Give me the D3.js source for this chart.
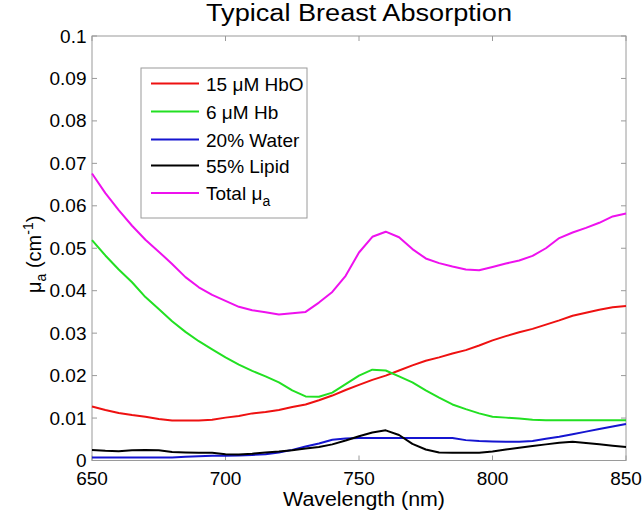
<!DOCTYPE html>
<html>
<head>
<meta charset="utf-8">
<script src="https://cdn.jsdelivr.net/npm/d3@7"></script>
<style>
  body { margin: 0; background: #fff; }
  svg { font-family: "Liberation Sans", Arial, sans-serif; }
</style>
</head>
<body>
<div id="chart"></div>
<script>
const wavelengths = d3.range(650, 851, 5);

const hbo = [0.0127, 0.0119, 0.0112, 0.0107, 0.0103, 0.0098, 0.0094, 0.0094, 0.0094, 0.0096,
  0.0101, 0.0105, 0.0111, 0.0114, 0.0119, 0.0126, 0.0132, 0.0142, 0.0153, 0.0166,
  0.0178, 0.0190, 0.0200, 0.0212, 0.0224, 0.0235, 0.0243, 0.0252, 0.0260, 0.0271,
  0.0283, 0.0293, 0.0302, 0.0310, 0.0320, 0.0330, 0.0341, 0.0348, 0.0355, 0.0361, 0.0364];

const hb = [0.0519, 0.0483, 0.0450, 0.0420, 0.0385, 0.0357, 0.0328, 0.0303, 0.0281, 0.0262,
  0.0243, 0.0226, 0.0211, 0.0198, 0.0184, 0.0165, 0.0151, 0.0150, 0.0160, 0.0180,
  0.0200, 0.0214, 0.0212, 0.0198, 0.0184, 0.0165, 0.0148, 0.0132, 0.0121, 0.0111,
  0.0103, 0.0101, 0.0099, 0.0096, 0.0095, 0.0095, 0.0095, 0.0095, 0.0095, 0.0095, 0.0095];

const water = [0.0007, 0.0007, 0.0007, 0.0007, 0.0007, 0.0007, 0.0007, 0.0009, 0.0010, 0.0011,
  0.0011, 0.0012, 0.0013, 0.0015, 0.0019, 0.0025, 0.0033, 0.0040, 0.0049, 0.0052,
  0.0053, 0.0053, 0.0053, 0.0053, 0.0053, 0.0053, 0.0053, 0.0053, 0.0048, 0.0046,
  0.0045, 0.0044, 0.0044, 0.0046, 0.0051, 0.0056, 0.0062, 0.0068, 0.0074, 0.0080, 0.0086];

const lipid = [0.0025, 0.0023, 0.0022, 0.0024, 0.0025, 0.0024, 0.0020, 0.0019, 0.0018, 0.0018,
  0.0015, 0.0014, 0.0016, 0.0019, 0.0021, 0.0024, 0.0028, 0.0032, 0.0038, 0.0047,
  0.0057, 0.0066, 0.0071, 0.0060, 0.0039, 0.0026, 0.0019, 0.0018, 0.0018, 0.0018,
  0.0021, 0.0026, 0.0030, 0.0034, 0.0038, 0.0042, 0.0044, 0.0041, 0.0038, 0.0035, 0.0032];

const total = [0.0676, 0.0630, 0.0590, 0.0553, 0.0520, 0.0492, 0.0463, 0.0432, 0.0408, 0.0390,
  0.0376, 0.0362, 0.0354, 0.0349, 0.0344, 0.0347, 0.0350, 0.0372, 0.0397, 0.0435,
  0.0490, 0.0527, 0.0539, 0.0526, 0.0498, 0.0476, 0.0465, 0.0457, 0.0450, 0.0448,
  0.0456, 0.0464, 0.0471, 0.0482, 0.0500, 0.0524, 0.0537, 0.0548, 0.0560, 0.0575, 0.0582];

const xTicks = [650, 700, 750, 800, 850];
const yTicks = [0, 0.01, 0.02, 0.03, 0.04, 0.05, 0.06, 0.07, 0.08, 0.09, 0.1];

const series = [
  { name: 'hbo', values: hbo, color: '#ee1111' },
  { name: 'hb', values: hb, color: '#22e022' },
  { name: 'water', values: water, color: '#1515d0' },
  { name: 'lipid', values: lipid, color: '#000000' },
  { name: 'total', values: total, color: '#ee11ee' }
];

const width = 643;
const height = 515;
const margin = { top: 36, right: 17, bottom: 54.5, left: 92 };
const innerW = width - margin.left - margin.right;
const innerH = height - margin.top - margin.bottom;

const svg = d3.select('#chart')
  .append('svg')
  .attr('width', width)
  .attr('height', height);

const x = d3.scaleLinear().domain([650, 850]).range([margin.left, margin.left + innerW]);
const y = d3.scaleLinear().domain([0, 0.1]).range([margin.top + innerH, margin.top]);

const frameColor = '#9a9a9a';

// tick marks (inside), on all four sides
const tickLen = 5;
const gTicks = svg.append('g').attr('stroke', frameColor).attr('stroke-width', 1);
xTicks.forEach(t => {
  gTicks.append('line').attr('x1', x(t)).attr('x2', x(t)).attr('y1', y(0)).attr('y2', y(0) - tickLen);
  gTicks.append('line').attr('x1', x(t)).attr('x2', x(t)).attr('y1', y(0.1)).attr('y2', y(0.1) + tickLen);
});
yTicks.forEach(t => {
  gTicks.append('line').attr('x1', x(650)).attr('x2', x(650) + tickLen).attr('y1', y(t)).attr('y2', y(t));
  gTicks.append('line').attr('x1', x(850)).attr('x2', x(850) - tickLen).attr('y1', y(t)).attr('y2', y(t));
});

svg.append('rect')
  .attr('x', margin.left)
  .attr('y', margin.top)
  .attr('width', innerW)
  .attr('height', innerH)
  .attr('fill', 'none')
  .attr('stroke', frameColor)
  .attr('stroke-width', 1);

// tick labels
svg.append('g').selectAll('text')
  .data(xTicks)
  .enter()
  .append('text')
  .attr('x', d => x(d))
  .attr('y', y(0) + 24)
  .attr('text-anchor', 'middle')
  .attr('font-size', 19)
  .text(d => d);

svg.append('g').selectAll('text')
  .data(yTicks)
  .enter()
  .append('text')
  .attr('x', margin.left - 5.5)
  .attr('y', d => y(d) + 6.5)
  .attr('text-anchor', 'end')
  .attr('font-size', 19)
  .text(d => d3.format('~g')(d));

// lines
const line = d3.line()
  .x((d, i) => x(wavelengths[i]))
  .y(d => y(d));

svg.append('g').selectAll('path')
  .data(series)
  .enter()
  .append('path')
  .attr('d', d => line(d.values))
  .attr('fill', 'none')
  .attr('stroke', d => d.color)
  .attr('stroke-width', 2)
  .attr('stroke-linejoin', 'round');

// title and axis labels
svg.append('text')
  .attr('x', 359)
  .attr('y', 20.5)
  .attr('text-anchor', 'middle')
  .attr('font-size', 23)
  .attr('textLength', 306)
  .attr('lengthAdjust', 'spacingAndGlyphs')
  .text('Typical Breast Absorption');

svg.append('text')
  .attr('x', 364)
  .attr('y', 506)
  .attr('text-anchor', 'middle')
  .attr('font-size', 20.5)
  .attr('textLength', 162)
  .attr('lengthAdjust', 'spacingAndGlyphs')
  .text('Wavelength (nm)');

const yl = svg.append('text')
  .attr('transform', `translate(41, ${y(0.05) + 6}) rotate(-90)`)
  .attr('text-anchor', 'middle')
  .attr('font-size', 20);
yl.append('tspan').text('\u03bc');
yl.append('tspan').attr('font-size', 14).attr('dy', 5).text('a');
yl.append('tspan').attr('dy', -5).text(' (cm');
yl.append('tspan').attr('font-size', 14).attr('dy', -8).text('-1');
yl.append('tspan').attr('dy', 8).text(')');

// legend
const legend = svg.append('g');
legend.append('rect')
  .attr('x', 141)
  .attr('y', 68)
  .attr('width', 166)
  .attr('height', 150)
  .attr('fill', '#fff')
  .attr('stroke', frameColor)
  .attr('stroke-width', 1);

const legendRows = [
  { color: series[0].color, parts: [['15 ', 0], ['\u03bc', 0], ['M HbO', 0]] },
  { color: series[1].color, parts: [['6 ', 0], ['\u03bc', 0], ['M Hb', 0]] },
  { color: series[2].color, parts: [['20% Water', 0]] },
  { color: series[3].color, parts: [['55% Lipid', 0]] },
  { color: series[4].color, parts: [['Total ', 0], ['\u03bc', 0], ['a', 1]] }
];
const rowY = [83.5, 111.5, 139.5, 165.5, 193];

legendRows.forEach((r, i) => {
  legend.append('line')
    .attr('x1', 151).attr('x2', 199)
    .attr('y1', rowY[i]).attr('y2', rowY[i])
    .attr('stroke', r.color)
    .attr('stroke-width', 2);
  const t = legend.append('text')
    .attr('x', 206)
    .attr('y', rowY[i] + 7)
    .attr('font-size', 19);
  r.parts.forEach(p => {
    if (p[1]) {
      t.append('tspan').attr('font-size', 14).attr('dy', 6).text(p[0]);
    } else {
      t.append('tspan').text(p[0]);
    }
  });
});
</script>
</body>
</html>
